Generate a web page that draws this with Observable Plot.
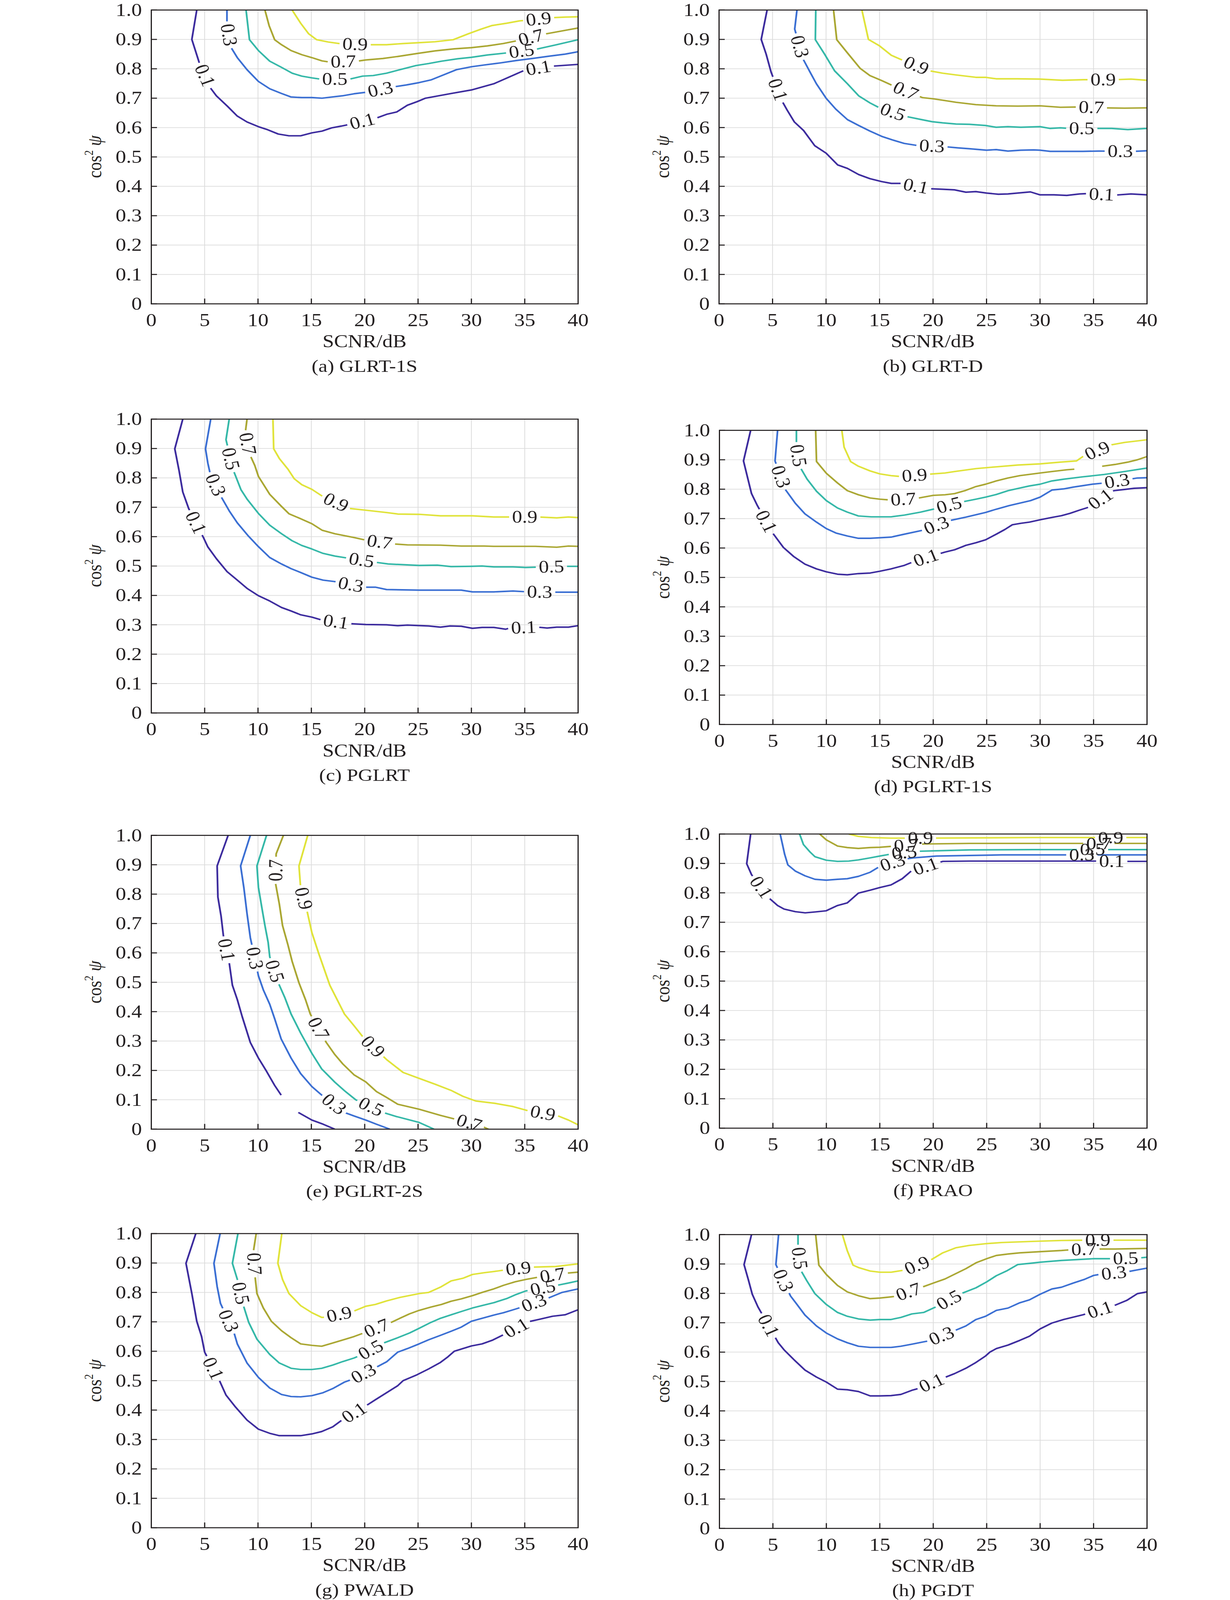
<!DOCTYPE html>
<html>
<head>
<meta charset="utf-8">
<script src="https://cdn.jsdelivr.net/npm/d3@7"></script>
<script src="https://cdn.jsdelivr.net/npm/@observablehq/plot@0.6"></script>
<style>
  html, body { margin: 0; padding: 0; background: #fff; overflow: hidden; }
  #page { position: relative; width: 3150px; height: 4705px; background: #fff; overflow: hidden;
          transform-origin: 0 0;
          font-family: 'Liberation Serif', 'Times New Roman', serif; color: #231f20; }
  .lbl { position: absolute; white-space: nowrap; font-size: 53px; line-height: 1; transform: translate(-50%, -50%); }
  .cap { font-size: 52px; }
  .ylbl { position: absolute; white-space: nowrap; font-size: 50px; line-height: 1; transform: translate(-50%, -50%) rotate(-90deg); }
  .ylbl sup { font-size: 31px; vertical-align: 21px; }
  .panel { position: absolute; }
</style>
</head>
<body>
<div id="page"></div>
<script>
// ---------- shared values ----------
const levels = [0.1, 0.3, 0.5, 0.7, 0.9];
const levelText = ["0.1", "0.3", "0.5", "0.7", "0.9"];
const levelColors = ["#3d2c9e", "#3b6fd3", "#35b8a8", "#aaa733", "#e0e33a"];
const xTicks = [0, 5, 10, 15, 20, 25, 30, 35, 40];
const yTicks = [0, 0.1, 0.2, 0.3, 0.4, 0.5, 0.6, 0.7, 0.8, 0.9, 1.0];
const xLabel = "SCNR/dB";
const captions = ["(a) GLRT-1S", "(b) GLRT-D", "(c) PGLRT", "(d) PGLRT-1S", "(e) PGLRT-2S", "(f) PRAO", "(g) PWALD", "(h) PGDT"];

// ---------- (a) GLRT-1S ----------
const a01 = [[4.26,1.0],[3.8,0.90],[4.56,0.813],[5.6,0.732],[6.1,0.708],[7.15,0.672],[8.06,0.639],[8.97,0.619],[10.04,0.603],[10.8,0.594],[11.9,0.578],[12.9,0.572],[14.0,0.572],[15.05,0.582],[16.0,0.588],[16.9,0.599],[17.8,0.605],[18.6,0.611],[21.0,0.631],[22.05,0.645],[23.0,0.653],[24.0,0.676],[24.9,0.688],[25.7,0.700],[26.9,0.708],[28.1,0.716],[30.0,0.728],[32.1,0.749],[33.6,0.773],[35.1,0.797],[37.6,0.809],[38.8,0.812],[40,0.815]];
const a03 = [[7.09,1.0],[7.09,0.955],[7.45,0.874],[8.06,0.838],[8.97,0.797],[10.04,0.757],[11.1,0.732],[12.2,0.716],[13.1,0.704],[14.1,0.702],[15.05,0.702],[16.0,0.700],[16.9,0.704],[17.9,0.708],[19.0,0.715],[20.1,0.720],[22.8,0.739],[23.9,0.745],[25.1,0.753],[26.2,0.762],[27.5,0.781],[28.6,0.797],[30.0,0.807],[31.2,0.813],[32.7,0.82],[34.2,0.828],[35.7,0.835],[37.3,0.843],[38.8,0.85],[40,0.858]];
const a05 = [[8.88,1.0],[9.2,0.899],[10.04,0.862],[11.1,0.826],[12.2,0.805],[13.2,0.785],[14.1,0.775],[15.05,0.769],[15.8,0.765],[18.6,0.765],[19.8,0.775],[20.8,0.777],[22.05,0.785],[23.3,0.797],[24.8,0.811],[26.0,0.818],[27.2,0.826],[28.7,0.834],[30.0,0.839],[31.5,0.847],[33.3,0.854],[36.0,0.866],[38.0,0.882],[40,0.899]];
const a07 = [[10.65,1.0],[11.04,0.947],[11.56,0.899],[12.2,0.882],[13.1,0.862],[14.1,0.848],[15.05,0.838],[16.0,0.827],[16.7,0.823],[19.3,0.826],[20.1,0.83],[21.7,0.835],[23.3,0.843],[24.9,0.852],[26.6,0.861],[28.4,0.868],[30.0,0.872],[31.5,0.878],[33.0,0.886],[34.2,0.895],[37.0,0.919],[38.8,0.931],[40,0.939]];
const a09 = [[13.2,1.0],[14.0,0.955],[14.75,0.919],[15.5,0.899],[16.6,0.891],[17.8,0.885],[20.2,0.882],[22.05,0.882],[23.6,0.886],[25.1,0.889],[26.6,0.892],[28.3,0.899],[29.7,0.919],[30.9,0.935],[31.9,0.947],[33.3,0.955],[34.5,0.963],[37.6,0.974],[38.8,0.976],[40,0.977]];
const aLabels = [[0.1,5.0,0.777],[0.1,19.8,0.619],[0.1,36.3,0.80],[0.3,7.2,0.915],[0.3,21.5,0.726],[0.5,17.2,0.761],[0.5,34.7,0.86],[0.7,18.0,0.822],[0.7,35.6,0.905],[0.9,19.1,0.88],[0.9,36.3,0.969]];

// ---------- (b) GLRT-D ----------
const b01 = [[4.49,1.0],[3.94,0.90],[4.4,0.85],[4.86,0.789],[5.92,0.688],[6.37,0.659],[7.04,0.619],[7.9,0.59],[8.95,0.538],[10.0,0.513],[11.08,0.473],[12.0,0.461],[13.05,0.44],[14.1,0.426],[15.2,0.416],[16.1,0.41],[17.0,0.41],[19.6,0.392],[20.9,0.39],[22.0,0.388],[23.07,0.38],[24.0,0.382],[25.0,0.377],[26.1,0.373],[27.0,0.374],[27.9,0.377],[29.1,0.381],[30.0,0.371],[31.3,0.371],[32.5,0.369],[33.7,0.374],[34.3,0.375],[37.0,0.37],[38.5,0.374],[40,0.371]];
const b03 = [[7.28,1.0],[7.07,0.935],[7.9,0.83],[8.5,0.789],[9.1,0.749],[10.0,0.70],[10.9,0.663],[12.0,0.627],[13.05,0.607],[14.1,0.588],[15.2,0.57],[16.2,0.558],[17.3,0.546],[18.5,0.539],[21.1,0.535],[22.3,0.531],[23.4,0.528],[25.0,0.523],[25.9,0.525],[27.0,0.52],[28.2,0.523],[29.4,0.524],[30.0,0.523],[30.95,0.519],[32.5,0.519],[34.0,0.519],[35.5,0.52],[38.8,0.519],[40,0.521]];
const b05 = [[9.04,1.0],[9.0,0.899],[9.86,0.85],[10.8,0.793],[12.0,0.749],[13.05,0.708],[14.1,0.684],[15.0,0.667],[17.6,0.637],[18.8,0.628],[19.9,0.62],[20.9,0.616],[22.15,0.612],[23.4,0.611],[24.9,0.607],[25.9,0.601],[27.0,0.603],[28.2,0.601],[30.0,0.603],[30.95,0.597],[31.9,0.599],[32.8,0.597],[35.2,0.597],[36.7,0.597],[38.2,0.593],[40,0.597]];
const b07 = [[10.7,1.0],[11.0,0.899],[12.0,0.854],[13.2,0.801],[14.1,0.777],[15.2,0.76],[16.1,0.745],[19.0,0.702],[20.0,0.698],[21.1,0.692],[22.15,0.686],[24.0,0.678],[25.9,0.674],[27.9,0.673],[30.0,0.674],[31.9,0.669],[33.7,0.67],[36.1,0.667],[37.9,0.666],[40,0.667]];
const b09 = [[13.35,1.0],[13.96,0.90],[15.0,0.878],[16.1,0.846],[17.1,0.83],[19.7,0.793],[20.9,0.785],[22.15,0.779],[24.0,0.771],[24.9,0.771],[25.9,0.766],[27.9,0.766],[30.0,0.765],[32.1,0.761],[34.1,0.763],[37.0,0.763],[38.5,0.765],[40,0.761]];
const bLabels = [[0.1,5.4,0.728],[0.1,18.4,0.401],[0.1,35.75,0.37],[0.3,7.35,0.874],[0.3,19.9,0.537],[0.3,37.5,0.519],[0.5,16.2,0.649],[0.5,33.9,0.597],[0.7,17.4,0.722],[0.7,34.8,0.668],[0.9,18.45,0.812],[0.9,35.9,0.763]];

// ---------- (c) PGLRT ----------
const c01 = [[2.95,1.0],[2.2,0.899],[2.6,0.825],[2.95,0.752],[3.5,0.696],[4.87,0.598],[5.3,0.565],[6.1,0.525],[7.1,0.481],[8.06,0.452],[8.97,0.424],[10.04,0.399],[11.1,0.381],[12.2,0.359],[13.1,0.347],[14.0,0.334],[15.05,0.326],[16.0,0.316],[18.6,0.304],[20.1,0.301],[22.05,0.30],[23.1,0.297],[24.0,0.299],[26.0,0.296],[27.1,0.292],[28.0,0.296],[29.05,0.295],[30.1,0.288],[31.0,0.291],[32.1,0.291],[33.2,0.285],[33.6,0.289],[36.2,0.292],[37.1,0.289],[38.0,0.292],[39.1,0.292],[40,0.297]];
const c03 = [[5.57,1.0],[5.08,0.899],[5.3,0.85],[5.5,0.817],[6.54,0.736],[7.3,0.688],[8.06,0.647],[9.1,0.602],[10.04,0.566],[11.1,0.529],[12.2,0.507],[13.1,0.491],[14.0,0.478],[15.05,0.462],[16.1,0.452],[17.2,0.447],[19.9,0.428],[21.0,0.428],[22.05,0.42],[25.1,0.418],[28.1,0.418],[29.05,0.418],[30.1,0.412],[32.1,0.412],[33.9,0.415],[35.3,0.412],[37.7,0.411],[40,0.411]];
const c05 = [[7.3,1.0],[7.0,0.93],[7.7,0.825],[8.4,0.76],[8.97,0.728],[10.04,0.679],[11.1,0.639],[12.2,0.61],[13.2,0.586],[14.1,0.57],[15.05,0.558],[16.1,0.543],[17.2,0.534],[18.4,0.527],[21.0,0.513],[22.2,0.507],[25.1,0.502],[26.8,0.503],[28.1,0.498],[30.0,0.499],[31.0,0.50],[32.1,0.497],[33.9,0.497],[35.1,0.495],[38.8,0.499],[40,0.499]];
const c07 = [[8.97,1.0],[8.8,0.951],[9.3,0.874],[9.7,0.842],[10.04,0.805],[11.1,0.744],[12.2,0.703],[12.9,0.678],[14.0,0.661],[15.05,0.644],[16.0,0.622],[17.2,0.61],[19.0,0.597],[20.1,0.588],[22.8,0.575],[24.0,0.572],[27.1,0.571],[29.05,0.568],[31.2,0.568],[32.1,0.567],[34.2,0.567],[36.0,0.567],[38.0,0.564],[39.1,0.568],[40,0.567]];
const c09 = [[11.4,1.0],[11.47,0.899],[12.0,0.866],[12.8,0.83],[13.4,0.797],[14.1,0.777],[15.05,0.761],[16.1,0.736],[18.6,0.696],[20.1,0.69],[22.05,0.682],[23.1,0.677],[25.1,0.676],[27.1,0.671],[30.1,0.671],[32.1,0.667],[33.6,0.667],[36.2,0.667],[38.0,0.664],[39.1,0.667],[40,0.665]];
const cLabels = [[0.1,4.26,0.649],[0.1,17.3,0.31],[0.1,34.9,0.29],[0.3,5.93,0.775],[0.3,18.7,0.437],[0.3,36.4,0.412],[0.5,7.3,0.864],[0.5,19.7,0.52],[0.5,37.5,0.497],[0.7,8.8,0.915],[0.7,21.4,0.582],[0.9,17.3,0.716],[0.9,35.0,0.667]];

// ---------- (d) PGLRT-1S ----------
const d01 = [[2.92,1.0],[2.25,0.896],[2.64,0.838],[3.0,0.785],[3.55,0.744],[4.98,0.651],[5.98,0.602],[6.95,0.571],[8.0,0.545],[9.08,0.529],[10.0,0.519],[11.05,0.511],[11.96,0.509],[13.0,0.513],[14.1,0.515],[15.0,0.521],[16.05,0.529],[17.3,0.541],[18.2,0.554],[20.5,0.58],[21.1,0.586],[22.0,0.594],[23.05,0.609],[24.0,0.618],[24.9,0.628],[25.9,0.647],[26.7,0.663],[27.4,0.679],[28.2,0.684],[29.0,0.688],[30.0,0.696],[31.1,0.704],[32.0,0.71],[32.8,0.718],[33.7,0.729],[34.4,0.737],[36.9,0.795],[37.9,0.799],[38.8,0.803],[40,0.805]];
const d03 = [[5.44,1.0],[5.2,0.896],[6.2,0.797],[7.1,0.752],[8.0,0.716],[9.08,0.688],[10.0,0.666],[10.9,0.651],[11.96,0.641],[13.0,0.633],[14.1,0.633],[16.05,0.637],[17.3,0.647],[19.1,0.661],[21.5,0.693],[23.05,0.705],[24.9,0.721],[25.9,0.732],[27.1,0.744],[29.1,0.761],[30.0,0.773],[31.1,0.797],[32.2,0.801],[33.1,0.807],[34.0,0.812],[34.9,0.817],[36.0,0.821],[38.4,0.834],[39.1,0.838],[40,0.839]];
const d05 = [[7.2,1.0],[7.2,0.951],[7.56,0.874],[8.2,0.834],[9.08,0.793],[10.0,0.761],[11.05,0.736],[11.96,0.722],[13.0,0.709],[14.2,0.706],[16.05,0.706],[17.3,0.712],[18.8,0.722],[20.0,0.732],[22.6,0.756],[24.0,0.766],[24.9,0.773],[25.9,0.782],[27.0,0.795],[28.1,0.804],[29.0,0.811],[30.0,0.817],[31.1,0.828],[32.2,0.834],[34.0,0.842],[36.0,0.85],[37.9,0.86],[40,0.872]];
const d07 = [[9.0,1.0],[9.08,0.894],[10.0,0.854],[11.05,0.821],[11.96,0.795],[13.0,0.781],[14.1,0.77],[15.0,0.766],[16.05,0.763],[18.5,0.769],[20.0,0.779],[21.1,0.781],[22.0,0.785],[23.05,0.796],[24.0,0.809],[24.9,0.817],[25.9,0.828],[27.0,0.838],[28.1,0.846],[30.0,0.855],[31.1,0.86],[32.5,0.866],[33.2,0.868],[NaN,NaN],[35.8,0.878],[37.0,0.884],[38.2,0.892],[39.1,0.90],[40,0.911]];
const d09 = [[11.45,1.0],[11.66,0.943],[12.27,0.894],[13.0,0.878],[14.1,0.862],[15.0,0.852],[16.05,0.846],[17.0,0.843],[19.6,0.851],[21.1,0.855],[22.0,0.86],[24.0,0.87],[25.9,0.876],[27.9,0.882],[30.0,0.886],[31.9,0.892],[33.4,0.896],[34.0,0.911],[36.7,0.951],[37.9,0.959],[40,0.968]];
const dLabels = [[0.1,4.37,0.69],[0.1,19.3,0.568],[0.1,35.65,0.766],[0.3,5.68,0.842],[0.3,20.3,0.677],[0.3,37.2,0.828],[0.5,7.1,0.913],[0.5,21.5,0.744],[0.7,17.2,0.766],[0.9,18.25,0.847],[0.9,35.35,0.931]];

// ---------- (e) PGLRT-2S ----------
const e01 = [[7.2,1.0],[6.17,0.896],[6.24,0.79],[6.54,0.725],[6.75,0.66],[7.3,0.567],[7.6,0.49],[8.06,0.441],[8.51,0.384],[9.28,0.295],[10.04,0.242],[10.8,0.197],[11.56,0.149],[12.17,0.116],[NaN,NaN],[13.78,0.057],[15.05,0.031],[16.1,0.017],[17.2,0.0]];
const e03 = [[9.28,1.0],[8.37,0.896],[8.67,0.823],[8.97,0.734],[9.28,0.652],[10.04,0.522],[10.5,0.474],[11.1,0.425],[11.56,0.376],[12.17,0.307],[13.1,0.242],[14.0,0.189],[15.05,0.145],[15.97,0.116],[18.25,0.055],[19.0,0.045],[20.1,0.031],[21.1,0.017],[22.36,0.0]];
const e05 = [[10.8,1.0],[9.9,0.896],[10.04,0.823],[10.34,0.758],[10.65,0.693],[10.95,0.636],[11.1,0.587],[12.0,0.49],[12.5,0.449],[13.1,0.392],[14.0,0.327],[15.05,0.258],[15.97,0.205],[17.2,0.16],[18.1,0.131],[19.16,0.10],[21.9,0.055],[22.97,0.043],[25.1,0.023],[26.5,0.0]];
const e07 = [[12.38,1.0],[11.7,0.937],[11.65,0.835],[12.0,0.766],[12.3,0.693],[12.8,0.628],[13.2,0.571],[13.84,0.498],[14.45,0.441],[14.9,0.392],[16.4,0.295],[17.2,0.254],[17.95,0.222],[19.0,0.185],[20.1,0.161],[21.1,0.128],[22.05,0.108],[23.1,0.085],[25.1,0.068],[27.1,0.047],[28.4,0.035],[30.9,0.011],[31.6,0.0]];
const e09 = [[14.66,1.0],[13.84,0.896],[13.99,0.823],[14.6,0.742],[15.05,0.669],[15.67,0.6],[16.73,0.49],[18.1,0.392],[19.0,0.352],[19.9,0.311],[22.05,0.237],[23.6,0.193],[25.1,0.173],[26.6,0.153],[28.1,0.132],[29.2,0.112],[30.4,0.096],[32.2,0.088],[33.9,0.077],[35.3,0.063],[38.0,0.047],[39.1,0.031],[40,0.015]];
const eLabels = [[0.1,6.94,0.61],[0.3,9.52,0.581],[0.3,17.1,0.084],[0.5,11.7,0.539],[0.5,20.6,0.076],[0.7,11.5,0.881],[0.7,15.8,0.345],[0.7,29.8,0.023],[0.9,14.1,0.784],[0.9,20.7,0.279],[0.9,36.7,0.055]];

// ---------- (f) PRAO ----------
const f01 = [[2.92,1.0],[2.55,0.899],[3.0,0.862],[4.68,0.781],[5.44,0.757],[6.04,0.745],[7.1,0.736],[8.02,0.732],[8.93,0.735],[9.99,0.739],[11.05,0.757],[11.96,0.766],[13.0,0.799],[14.1,0.809],[15.0,0.818],[16.05,0.827],[17.1,0.848],[18.0,0.876],[20.5,0.903],[20.9,0.907],[23.4,0.908],[26.4,0.908],[30.0,0.908],[35.3,0.908],[37.9,0.907],[40,0.907]];
const f03 = [[5.68,1.0],[5.9,0.964],[6.1,0.931],[6.4,0.895],[7.1,0.874],[8.0,0.858],[8.93,0.846],[10.0,0.843],[11.05,0.846],[11.96,0.848],[13.0,0.856],[14.1,0.87],[15.0,0.89],[17.4,0.915],[18.2,0.919],[20.3,0.925],[23.4,0.927],[26.4,0.929],[32.8,0.929],[35.2,0.929],[40,0.929]];
const f05 = [[7.5,1.0],[7.86,0.964],[8.47,0.939],[8.93,0.923],[9.99,0.911],[11.05,0.907],[12.1,0.908],[13.0,0.912],[14.1,0.919],[15.0,0.925],[15.9,0.931],[18.3,0.941],[20.3,0.943],[23.4,0.946],[29.4,0.947],[33.7,0.947],[36.1,0.947],[40,0.947]];
const f07 = [[9.38,1.0],[10.0,0.98],[11.05,0.959],[11.96,0.954],[13.0,0.951],[14.1,0.954],[15.0,0.955],[16.05,0.958],[16.7,0.959],[19.1,0.966],[23.4,0.968],[29.4,0.968],[34.6,0.968],[36.7,0.968],[40,0.968]];
const f09 = [[12.1,1.0],[13.0,0.992],[14.2,0.988],[16.05,0.986],[20.0,0.986],[29.4,0.988],[37.8,0.988],[40,0.988]];
const fLabels = [[0.1,3.92,0.819],[0.1,19.3,0.889],[0.1,36.7,0.907],[0.3,16.2,0.903],[0.3,33.9,0.929],[0.5,17.3,0.935],[0.5,34.9,0.947],[0.7,17.5,0.962],[0.7,35.5,0.968],[0.9,18.8,0.986],[0.9,36.6,0.988]];

// ---------- (g) PWALD ----------
const g01 = [[4.17,1.0],[3.25,0.899],[3.8,0.796],[4.26,0.702],[4.71,0.65],[5.0,0.597],[6.39,0.5],[7.0,0.451],[7.9,0.41],[8.97,0.366],[10.04,0.335],[11.1,0.321],[12.0,0.313],[13.1,0.313],[14.0,0.313],[15.05,0.319],[15.97,0.327],[17.0,0.343],[17.9,0.367],[20.1,0.414],[21.0,0.435],[22.05,0.459],[23.1,0.483],[23.6,0.5],[24.9,0.52],[26.0,0.54],[27.1,0.562],[27.8,0.581],[28.4,0.60],[30.0,0.618],[31.0,0.625],[32.0,0.638],[33.0,0.656],[35.3,0.70],[36.3,0.708],[37.6,0.719],[38.8,0.724],[40,0.741]];
const g03 = [[6.45,1.0],[5.87,0.899],[6.17,0.82],[6.48,0.763],[7.76,0.662],[8.06,0.625],[8.97,0.56],[10.04,0.511],[11.1,0.475],[12.2,0.453],[13.1,0.446],[14.0,0.445],[15.05,0.449],[16.1,0.459],[17.0,0.473],[18.1,0.495],[18.7,0.503],[21.0,0.544],[22.05,0.564],[23.1,0.597],[24.0,0.609],[25.1,0.625],[26.0,0.639],[27.1,0.654],[28.1,0.668],[29.05,0.682],[30.0,0.702],[31.0,0.712],[32.1,0.723],[33.0,0.731],[34.1,0.743],[34.8,0.751],[37.1,0.779],[38.5,0.80],[40,0.812]];
const g05 = [[8.12,1.0],[7.6,0.899],[8.1,0.84],[8.67,0.751],[9.13,0.698],[9.9,0.641],[11.1,0.589],[12.0,0.56],[13.1,0.542],[14.0,0.538],[15.05,0.538],[15.97,0.542],[17.0,0.553],[17.95,0.565],[19.0,0.577],[19.6,0.586],[21.7,0.627],[23.1,0.646],[24.2,0.662],[25.1,0.678],[26.2,0.698],[27.1,0.712],[28.1,0.724],[29.05,0.735],[30.1,0.747],[31.2,0.757],[32.1,0.765],[33.3,0.779],[34.2,0.793],[35.1,0.805],[38.0,0.824],[39.1,0.832],[40,0.839]];
const g07 = [[9.83,1.0],[9.58,0.942],[9.73,0.852],[9.9,0.796],[10.5,0.747],[11.25,0.702],[12.2,0.67],[13.1,0.646],[14.0,0.625],[15.05,0.62],[15.97,0.617],[17.0,0.628],[18.1,0.64],[19.0,0.65],[19.9,0.662],[22.2,0.693],[23.3,0.712],[24.2,0.727],[25.1,0.739],[26.2,0.75],[27.2,0.759],[28.1,0.77],[29.05,0.778],[30.1,0.789],[31.0,0.80],[32.1,0.812],[33.0,0.824],[34.1,0.836],[35.1,0.844],[36.3,0.852],[38.8,0.865],[40,0.869]];
const g09 = [[12.23,1.0],[11.86,0.899],[12.3,0.844],[12.9,0.796],[14.0,0.755],[15.05,0.731],[15.97,0.715],[16.4,0.716],[18.9,0.735],[20.1,0.753],[21.0,0.759],[22.05,0.771],[23.3,0.783],[25.1,0.796],[26.0,0.80],[27.1,0.818],[28.1,0.839],[29.2,0.848],[30.1,0.861],[31.2,0.867],[32.1,0.871],[33.3,0.877],[35.7,0.886],[37.9,0.888],[40,0.897]];
const gLabels = [[0.1,5.7,0.54],[0.1,18.95,0.394],[0.1,34.2,0.68],[0.3,7.15,0.702],[0.3,19.9,0.524],[0.3,35.9,0.762],[0.5,8.2,0.796],[0.5,20.6,0.603],[0.5,36.7,0.815],[0.7,9.4,0.897],[0.7,21.1,0.68],[0.7,37.6,0.858],[0.9,17.6,0.727],[0.9,34.4,0.882]];

// ---------- (h) PGDT ----------
const h01 = [[3.0,1.0],[2.3,0.898],[2.7,0.847],[3.07,0.797],[3.6,0.754],[5.5,0.632],[6.04,0.608],[6.95,0.575],[8.0,0.539],[9.08,0.515],[10.0,0.498],[11.05,0.474],[11.96,0.472],[13.0,0.466],[14.1,0.451],[15.0,0.451],[16.05,0.452],[16.97,0.456],[18.0,0.47],[18.6,0.476],[20.9,0.511],[22.0,0.527],[23.05,0.545],[24.0,0.565],[24.9,0.587],[25.3,0.60],[25.9,0.612],[27.0,0.624],[28.1,0.64],[29.0,0.654],[30.0,0.679],[31.1,0.699],[32.2,0.711],[33.1,0.719],[34.0,0.727],[36.9,0.758],[38.1,0.776],[39.1,0.799],[40,0.805]];
const h03 = [[5.53,1.0],[5.28,0.898],[6.65,0.791],[7.26,0.762],[8.0,0.726],[9.08,0.689],[10.0,0.665],[11.05,0.645],[11.96,0.632],[13.0,0.62],[14.1,0.616],[15.0,0.616],[16.05,0.616],[16.97,0.62],[18.0,0.627],[19.1,0.635],[19.56,0.638],[22.0,0.673],[23.05,0.689],[24.0,0.711],[24.9,0.722],[25.9,0.742],[27.0,0.75],[28.1,0.768],[29.0,0.778],[30.0,0.797],[31.1,0.815],[32.0,0.821],[33.1,0.835],[34.1,0.847],[35.0,0.861],[35.65,0.865],[38.1,0.873],[39.1,0.88],[40,0.886]];
const h05 = [[7.35,1.0],[7.35,0.957],[7.65,0.876],[8.17,0.843],[8.93,0.799],[10.0,0.762],[11.05,0.735],[11.96,0.722],[13.0,0.713],[14.1,0.709],[15.0,0.711],[16.05,0.711],[16.97,0.718],[18.0,0.73],[19.1,0.735],[20.2,0.753],[22.6,0.799],[24.0,0.819],[25.0,0.839],[25.9,0.86],[26.85,0.876],[27.9,0.898],[29.0,0.902],[30.0,0.906],[32.0,0.912],[34.0,0.916],[35.0,0.918],[36.4,0.918],[39.1,0.92],[40,0.923]];
const h07 = [[9.0,1.0],[9.3,0.896],[10.0,0.864],[11.05,0.827],[11.96,0.805],[13.0,0.792],[14.1,0.782],[15.0,0.784],[16.05,0.788],[16.5,0.79],[18.95,0.821],[20.0,0.835],[21.1,0.849],[22.1,0.867],[23.05,0.884],[24.0,0.904],[25.0,0.918],[25.9,0.929],[27.0,0.934],[28.1,0.938],[30.0,0.942],[32.0,0.946],[33.1,0.949],[35.3,0.951],[37.0,0.951],[40,0.953]];
const h09 = [[11.5,1.0],[11.96,0.945],[12.5,0.896],[13.0,0.888],[14.1,0.876],[15.0,0.872],[16.05,0.872],[17.1,0.878],[17.4,0.88],[19.7,0.912],[20.9,0.938],[22.1,0.955],[23.35,0.963],[24.9,0.969],[26.4,0.973],[29.4,0.977],[32.0,0.98],[34.3,0.981],[36.7,0.981],[40,0.981]];
const hLabels = [[0.1,4.5,0.689],[0.1,19.9,0.492],[0.1,35.6,0.744],[0.3,5.74,0.841],[0.3,20.8,0.654],[0.3,36.9,0.87],[0.5,7.1,0.918],[0.5,21.5,0.776],[0.5,38.0,0.918],[0.7,17.7,0.805],[0.7,34.1,0.95],[0.9,18.5,0.894],[0.9,35.4,0.981]];

// ---------- layout (page pixels of each plot frame, in the 3150 x 4705 design) ----------
const DESIGN_W = 3150, DESIGN_H = 4705;
const layout = [
  {L: 387,  R: 1480, T: 29,   B: 893},
  {L: 1841, R: 2937, T: 29,   B: 893},
  {L: 387,  R: 1480, T: 1232, B: 2096},
  {L: 1842, R: 2937, T: 1265, B: 2130},
  {L: 387,  R: 1480, T: 2456, B: 3320},
  {L: 1842, R: 2937, T: 2452, B: 3317},
  {L: 387,  R: 1480, T: 3627, B: 4492},
  {L: 1842, R: 2937, T: 3630, B: 4494}
];

const panelSeries = [
  [a01, a03, a05, a07, a09], [b01, b03, b05, b07, b09], [c01, c03, c05, c07, c09], [d01, d03, d05, d07, d09],
  [e01, e03, e05, e07, e09], [f01, f03, f05, f07, f09], [g01, g03, g05, g07, g09], [h01, h03, h05, h07, h09]
];
const panelLabels = [aLabels, bLabels, cLabels, dLabels, eLabels, fLabels, gLabels, hLabels];

const FONT = "'Liberation Serif', 'Times New Roman', serif";
const INK = "#231f20";
const GAP = 40; // half-length of the line break around an inline label (px)
const yFmt = d => d === 0 ? "0" : d.toFixed(1);
function pt(p) { return {x: p[0], y: p[1]}; }

function buildPanel(idx) {
  const box = layout[idx];
  const W = box.R - box.L, H = box.B - box.T;
  const ml = 200, mr = 30, mt = 20, mb = 90;
  const xs = Plot.scale({x: {domain: [0, 40], range: [0, W]}});
  const ys = Plot.scale({y: {domain: [0, 1], range: [H, 0]}});
  const toPx = p => [xs.apply(p[0]), ys.apply(p[1])];

  const lineRows = [];
  const textRows = [];
  let pieceId = 0;

  panelSeries[idx].forEach((pts, li) => {
    const segs = [];
    let cur = [];
    for (const p of pts) {
      if (!isFinite(p[0]) || !isFinite(p[1])) { if (cur.length) segs.push(cur); cur = []; }
      else cur.push(p);
    }
    if (cur.length) segs.push(cur);
    const segInfo = segs.map(seg => {
      const px = seg.map(toPx);
      const cum = [0];
      for (let k = 1; k < px.length; k++) cum.push(cum[k - 1] + Math.hypot(px[k][0] - px[k - 1][0], px[k][1] - px[k - 1][1]));
      return {seg, px, cum, gaps: []};
    });
    const at = (info, s) => {
      const {seg, cum} = info;
      const total = cum[cum.length - 1];
      s = Math.max(0, Math.min(total, s));
      let k = 0;
      while (k < cum.length - 2 && cum[k + 1] < s) k++;
      const len = cum[k + 1] - cum[k] || 1;
      const t = (s - cum[k]) / len;
      return [seg[k][0] + t * (seg[k + 1][0] - seg[k][0]), seg[k][1] + t * (seg[k + 1][1] - seg[k][1])];
    };
    panelLabels[idx].filter(l => l[0] === levels[li]).forEach(l => {
      const lp = toPx([l[1], l[2]]);
      let best = null;
      segInfo.forEach((info, si) => {
        for (let k = 0; k < info.px.length - 1; k++) {
          const [x1, y1] = info.px[k], [x2, y2] = info.px[k + 1];
          const dx = x2 - x1, dy = y2 - y1;
          const L2 = dx * dx + dy * dy || 1;
          let t = ((lp[0] - x1) * dx + (lp[1] - y1) * dy) / L2;
          t = Math.max(0, Math.min(1, t));
          const qx = x1 + t * dx, qy = y1 + t * dy;
          const d = Math.hypot(lp[0] - qx, lp[1] - qy);
          if (!best || d < best.d) best = {d, si, s: info.cum[k] + t * Math.sqrt(L2)};
        }
      });
      if (!best) return;
      const info = segInfo[best.si];
      info.gaps.push([best.s - GAP, best.s + GAP]);
      const c = at(info, best.s);
      const pa = toPx(at(info, best.s - GAP)), pb = toPx(at(info, best.s + GAP));
      let ang = Math.atan2(pb[1] - pa[1], pb[0] - pa[0]) * 180 / Math.PI;
      if (ang > 90) ang -= 180;
      if (ang <= -90) ang += 180;
      textRows.push({x: c[0], y: c[1], text: levelText[li], rotate: ang});
    });
    segInfo.forEach(info => {
      const total = info.cum[info.cum.length - 1];
      const gaps = info.gaps.sort((u, v) => u[0] - v[0]);
      const keep = [];
      let start = 0;
      for (const [g0, g1] of gaps) {
        if (g0 > start) keep.push([start, Math.min(g0, total)]);
        start = Math.max(start, g1);
      }
      if (start < total) keep.push([start, total]);
      for (const [a, b] of keep) {
        const id = pieceId++;
        lineRows.push({...pt(at(info, a)), level: levels[li], id});
        info.cum.forEach((cv, k) => { if (cv > a && cv < b) lineRows.push({...pt(info.seg[k]), level: levels[li], id}); });
        lineRows.push({...pt(at(info, b)), level: levels[li], id});
      }
    });
  });

  const svg = Plot.plot({
    width: W + ml + mr,
    height: H + mt + mb,
    marginLeft: ml, marginRight: mr, marginTop: mt, marginBottom: mb,
    x: {domain: [0, 40]},
    y: {domain: [0, 1]},
    color: {type: "ordinal", domain: levels, range: levelColors},
    style: {fontFamily: FONT, fontSize: "54px", color: INK, background: "transparent", overflow: "visible"},
    marks: [
      Plot.ruleX(xTicks, {stroke: "#dcdcdc", strokeWidth: 2}),
      Plot.ruleY(yTicks, {stroke: "#dcdcdc", strokeWidth: 2}),
      Plot.line(lineRows, {x: "x", y: "y", z: "id", stroke: "level", strokeWidth: 4.5, strokeLinejoin: "round", strokeLinecap: "butt", clip: true}),
      Plot.text(textRows, {x: "x", y: "y", text: "text", rotate: "rotate", fontSize: 52, fontFamily: FONT, fill: INK}),
      Plot.ruleX(xTicks, {insetTop: H - 15, stroke: INK, strokeWidth: 3}),
      Plot.ruleY(yTicks, {insetRight: W - 15, stroke: INK, strokeWidth: 3}),
      Plot.frame({stroke: INK, strokeWidth: 3}),
      Plot.axisX(xTicks, {tickSize: 0, tickPadding: 27, label: null, fontSize: 54, tickFormat: d => String(d)}),
      Plot.axisY(yTicks, {tickSize: 0, tickPadding: 24, label: null, fontSize: 54, tickFormat: yFmt})
    ]
  });

  const page = document.getElementById("page");
  const holder = document.createElement("div");
  holder.className = "panel";
  holder.style.left = (box.L - ml) + "px";
  holder.style.top = (box.T - mt) + "px";
  holder.appendChild(svg);
  page.appendChild(holder);

  const xl = document.createElement("div");
  xl.className = "lbl";
  xl.textContent = xLabel;
  xl.style.left = ((box.L + box.R) / 2) + "px";
  xl.style.top = (box.B + 111) + "px";
  page.appendChild(xl);

  const cap = document.createElement("div");
  cap.className = "lbl cap";
  cap.textContent = captions[idx];
  cap.style.left = ((box.L + box.R) / 2) + "px";
  cap.style.top = (box.B + 183) + "px";
  page.appendChild(cap);

  const yl = document.createElement("div");
  yl.className = "ylbl";
  yl.innerHTML = "cos<sup>2</sup> <i>\u03c8</i>";
  yl.style.left = (box.L - 148) + "px";
  yl.style.top = ((box.T + box.B) / 2) + "px";
  page.appendChild(yl);
}

for (let i = 0; i < 8; i++) buildPanel(i);

// The window can be shorter than the 4705 px design (it is capped by the screen);
// fit the whole figure into the visible viewport so that nothing is cut off.
function fitPage() {
  const page = document.getElementById("page");
  const vw = window.innerWidth || DESIGN_W;
  const vh = window.innerHeight || DESIGN_H;
  const sx = Math.min(1, vw / DESIGN_W);
  const sy = Math.min(1, vh / DESIGN_H);
  page.style.transform = (sx < 1 || sy < 1) ? `scale(${sx}, ${sy})` : "none";
  document.body.style.height = Math.min(vh, DESIGN_H) + "px";
}
fitPage();
</script>
</body>
</html>
